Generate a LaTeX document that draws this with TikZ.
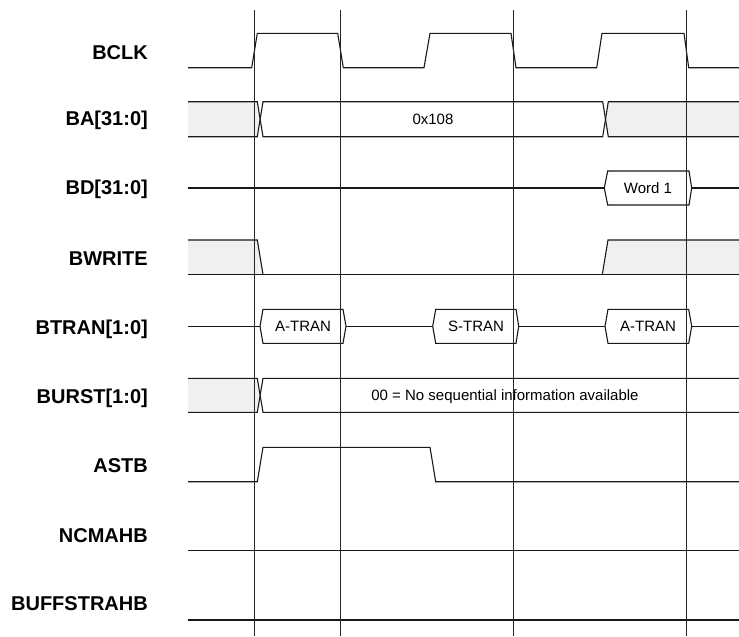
\documentclass[tikz,border=0pt]{standalone}
\usepackage{fontspec}
\setmainfont{Liberation Sans}
\definecolor{busgrey}{RGB}{240,240,240}
\definecolor{sigcol}{RGB}{25,25,25}
\begin{document}
\begin{tikzpicture}[x=1pt,y=-1pt,line join=miter,
  sig/.style={line width=1.1pt,draw=sigcol},
  gridline/.style={line width=0.8pt,draw=black!85},
  lab/.style={anchor=base east,inner sep=0pt,font=\fontsize{20}{23}\selectfont\bfseries},
  val/.style={anchor=base,inner sep=0pt,font=\fontsize{15}{18}\selectfont}]
\useasboundingbox (0,0) rectangle (739,637);

% ---- labels ----
\node[lab] (lbclk)  at (148,59)  {BCLK};
\node[lab] (lba)    at (148,125) {BA[31:0]};
\node[lab] (lbd)    at (148,194) {BD[31:0]};
\node[lab] (lbw)    at (148,265) {BWRITE};
\node[lab] (lbt)    at (148,334) {BTRAN[1:0]};
\node[lab] (lbu)    at (148,403) {BURST[1:0]};
\node[lab] (last)   at (148,472) {ASTB};
\node[lab] (lnc)    at (148,542) {NCMAHB};
\node[lab] (lbuf)   at (148,610) {BUFFSTRAHB};

% ---- grey fills ----
\fill[busgrey] (188,101.7) -- (257.3,101.7) -- (260.2,119.2) -- (257.3,136.7) -- (188,136.7) -- cycle;
\fill[busgrey] (739,101.7) -- (608.3,101.7) -- (605.5,119.2) -- (608.3,136.7) -- (739,136.7) -- cycle;
\fill[busgrey] (188,240) -- (257.3,240) -- (263,274.3) -- (188,274.3) -- cycle;
\fill[busgrey] (602.3,274.3) -- (608,240) -- (739,240) -- (739,274.3) -- cycle;
\fill[busgrey] (188,378.3) -- (257.3,378.3) -- (260.2,395.3) -- (257.3,412.3) -- (188,412.3) -- cycle;

% ---- BCLK ----
\draw[sig] (188,67.7) -- (251.7,67.7) -- (257.3,33.3) -- (337.7,33.3) -- (343.3,67.7)
  -- (424,67.7) -- (430,33.3) -- (511,33.3) -- (516,67.7)
  -- (596.7,67.7) -- (602,33.3) -- (684,33.3) -- (688.7,67.7) -- (739,67.7);

% ---- BA ----
\draw[sig] (188,101.7) -- (257.3,101.7) -- (263,136.7) -- (602.7,136.7) -- (608.3,101.7) -- (739,101.7);
\draw[sig] (188,136.7) -- (257.3,136.7) -- (263,101.7) -- (602.7,101.7) -- (608.3,136.7) -- (739,136.7);
\node[val] (vba) at (433,124.6) {0x108};

% ---- BD ----
\draw[sig] (188,188) -- (604.3,188);
\draw[sig] (604.3,188) -- (607.7,171) -- (689,171) -- (691.7,188) -- (689,205) -- (607.7,205) -- cycle;
\draw[sig] (691.7,188) -- (739,188);
\node[val] (vbd) at (648,193.4) {Word 1};

% ---- BWRITE ----
\draw[sig] (188,240) -- (257.3,240) -- (263,274.3);
\draw[sig] (188,274.3) -- (739,274.3);
\draw[sig] (602.3,274.3) -- (608,240) -- (739,240);

% ---- BTRAN ----
\draw[sig] (188,326.3) -- (260,326.3);
\draw[sig] (260,326.3) -- (263,309.3) -- (343,309.3) -- (346,326.3) -- (343,343.3) -- (263,343.3) -- cycle;
\draw[sig] (346,326.3) -- (432.7,326.3);
\draw[sig] (432.7,326.3) -- (435.7,309.3) -- (516,309.3) -- (518.7,326.3) -- (516,343.3) -- (435.7,343.3) -- cycle;
\draw[sig] (518.7,326.3) -- (605,326.3);
\draw[sig] (605,326.3) -- (608,309.3) -- (688.7,309.3) -- (691.7,326.3) -- (688.7,343.3) -- (608,343.3) -- cycle;
\draw[sig] (691.7,326.3) -- (739,326.3);
\node[val] (vt1) at (303,331.7) {A-TRAN};
\node[val] (vt2) at (476,331.7) {S-TRAN};
\node[val] (vt3) at (648,331.7) {A-TRAN};

% ---- BURST ----
\draw[sig] (188,378.3) -- (257.3,378.3) -- (263,412.3) -- (739,412.3);
\draw[sig] (188,412.3) -- (257.3,412.3) -- (263,378.3) -- (739,378.3);
\node[val] (vbu) at (505,400.7) {00 = No sequential information available};

% ---- ASTB ----
\draw[sig] (188,481.7) -- (257.3,481.7) -- (263,447.3) -- (430,447.3) -- (435.7,481.7) -- (739,481.7);

% ---- NCMAHB / BUFFSTRAHB ----
\draw[sig] (188,550.7) -- (739,550.7);
\draw[sig] (188,620) -- (739,620);

% ---- vertical timing lines ----
\coordinate (g1t) at (254.3,10); \coordinate (g1b) at (254.3,636);
\coordinate (g2t) at (340.7,10); \coordinate (g2b) at (340.7,636);
\coordinate (g3t) at (513.7,10); \coordinate (g3b) at (513.7,636);
\coordinate (g4t) at (686,10);   \coordinate (g4b) at (686,636);
\draw[gridline] (g1t) -- (g1b);
\draw[gridline] (g2t) -- (g2b);
\draw[gridline] (g3t) -- (g3b);
\draw[gridline] (g4t) -- (g4b);
\end{tikzpicture}
\end{document}
